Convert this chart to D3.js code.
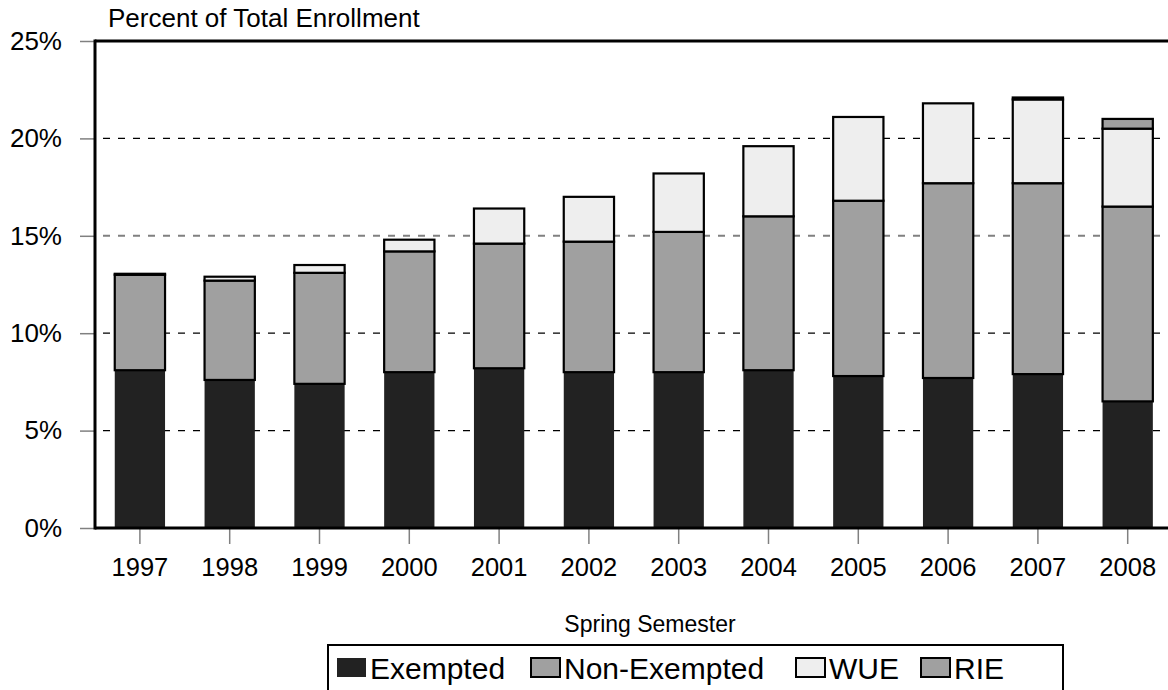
<!DOCTYPE html>
<html><head><meta charset="utf-8">
<script src="https://cdn.jsdelivr.net/npm/d3@7/dist/d3.min.js"></script>
<style>
html,body{margin:0;padding:0;background:#fff;}
svg{display:block;font-family:"Liberation Sans",Arial,sans-serif;}
</style></head>
<body><svg id="c" width="1168" height="690"></svg>
<script>
const years = ["1997","1998","1999","2000","2001","2002","2003","2004","2005","2006","2007","2008"];
const exempted    = [8.1, 7.6, 7.4, 8.0, 8.2, 8.0, 8.0, 8.1, 7.8, 7.7, 7.9, 6.5];
const nonExempted = [4.9, 5.1, 5.7, 6.2, 6.4, 6.7, 7.2, 7.9, 9.0, 10.0, 9.8, 10.0];
const wue         = [0.05, 0.2, 0.4, 0.6, 1.8, 2.3, 3.0, 3.6, 4.3, 4.1, 4.3, 4.0];
const rie         = [0, 0, 0, 0, 0, 0, 0, 0, 0, 0, 0.1, 0.5];
const seriesNames = ["Exempted","Non-Exempted","WUE","RIE"];
const yTicks = [0,5,10,15,20,25];
const gridValues = [5,10,15,20];

const fills = {"Exempted":"#222222","Non-Exempted":"#a0a0a0","WUE":"#eeeeee","RIE":"#a0a0a0"};
const strokes = {"Exempted":"none","Non-Exempted":"#000","WUE":"#000","RIE":"#000"};

const svg = d3.select("#c");
const L = 95, T = 41, B = 528, R = 1172.6;

const x = d3.scaleBand().domain(years).range([L, R]).paddingInner(0.44).paddingOuter(0.22);
const y = d3.scaleLinear().domain([0,25]).range([B, T]);

// gridlines
svg.append("g").selectAll("line").data(gridValues).join("line")
  .attr("x1", L).attr("x2", 1168)
  .attr("y1", d=>y(d)).attr("y2", d=>y(d))
  .attr("stroke", d=> d===15 ? "#808080" : "#000")
  .attr("stroke-width", d=> d===15 ? 2 : 1.3)
  .attr("stroke-dasharray", "7,8")
  .attr("stroke-dashoffset", -8);

// stacked data
const table = years.map((yr,i)=>({year:yr, "Exempted":exempted[i], "Non-Exempted":nonExempted[i], "WUE":wue[i], "RIE":rie[i]}));
const stacked = d3.stack().keys(seriesNames)(table);

const gBars = svg.append("g");
stacked.forEach(layer=>{
  const k = layer.key;
  gBars.append("g").selectAll("rect").data(layer.filter(d=>d[1]-d[0]>0)).join("rect")
    .attr("x", d=>x(d.data.year))
    .attr("width", x.bandwidth())
    .attr("y", d=>y(d[1]))
    .attr("height", d=>y(d[0])-y(d[1]))
    .attr("fill", fills[k])
    .attr("stroke", strokes[k])
    .attr("stroke-width", 2.2);
});

// axes
const yAxis = svg.append("g").attr("transform",`translate(${L},0)`)
  .call(d3.axisLeft(y).tickValues(yTicks).tickFormat(d=>d+"%").tickSize(15).tickPadding(18));
yAxis.select(".domain").remove();
yAxis.selectAll(".tick line").attr("stroke","#808080").attr("stroke-width",1.5);
yAxis.selectAll("text").attr("font-size",26).attr("fill","#000").attr("font-family","Liberation Sans, Arial, sans-serif");

const xAxis = svg.append("g").attr("transform",`translate(0,${B})`)
  .call(d3.axisBottom(x).tickSize(16).tickPadding(14));
xAxis.select(".domain").remove();
xAxis.selectAll(".tick line").attr("stroke","#808080").attr("stroke-width",1.5);
xAxis.selectAll("text").attr("font-size",25.5).attr("fill","#000").attr("font-family","Liberation Sans, Arial, sans-serif");

// frame lines
svg.append("line").attr("x1",L).attr("x2",L).attr("y1",T-1.5).attr("y2",B+1.5).attr("stroke","#000").attr("stroke-width",3);
svg.append("line").attr("x1",L).attr("x2",1168).attr("y1",B).attr("y2",B).attr("stroke","#000").attr("stroke-width",3);
svg.append("line").attr("x1",L).attr("x2",1168).attr("y1",T).attr("y2",T).attr("stroke","#000").attr("stroke-width",3);

// titles
svg.append("text").attr("x",108).attr("y",27).attr("font-size",26).text("Percent of Total Enrollment");
svg.append("text").attr("x",650).attr("y",632).attr("text-anchor","middle").attr("font-size",23).text("Spring Semester");

// legend
const lg = svg.append("g");
lg.append("rect").attr("x",328).attr("y",645).attr("width",735).attr("height",60)
  .attr("fill","#fff").attr("stroke","#000").attr("stroke-width",2);
const legendX = [337, 531, 796, 921];
seriesNames.forEach((k,i)=>{
  lg.append("rect").attr("x",legendX[i]).attr("y",658).attr("width",29).attr("height",19)
    .attr("fill",fills[k]).attr("stroke", k==="Exempted" ? "none" : "#000").attr("stroke-width",2);
  lg.append("text").attr("x",legendX[i]+33).attr("y",679).attr("font-size",30).text(k);
});
</script></body></html>
